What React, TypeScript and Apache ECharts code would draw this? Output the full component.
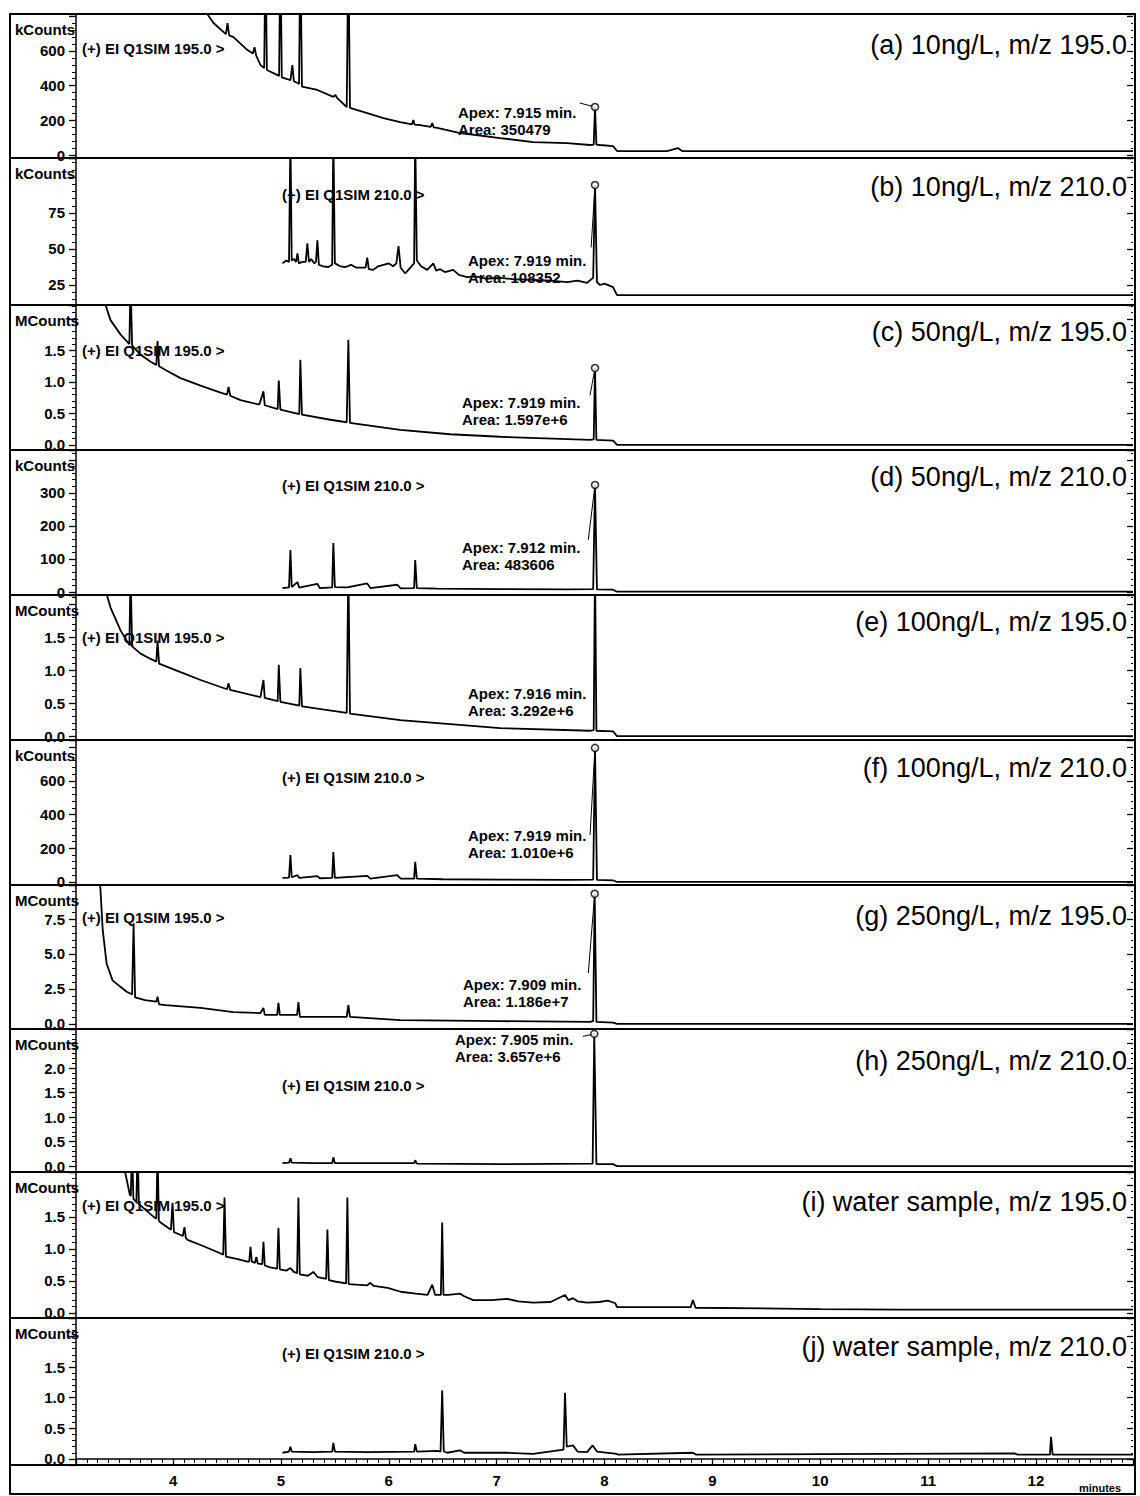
import React, { useEffect, useRef } from "react";
import * as echarts from "echarts";

// ---------- data ----------
const X_MIN = 3.1;
const X_MAX = 12.9;

const panelTitles = [
  "(a) 10ng/L, m/z 195.0",
  "(b) 10ng/L, m/z 210.0",
  "(c) 50ng/L, m/z 195.0",
  "(d) 50ng/L, m/z 210.0",
  "(e) 100ng/L, m/z 195.0",
  "(f) 100ng/L, m/z 210.0",
  "(g) 250ng/L, m/z 195.0",
  "(h) 250ng/L, m/z 210.0",
  "(i) water sample, m/z 195.0",
  "(j) water sample, m/z 210.0",
];
const simLabels = [
  "(+) EI Q1SIM 195.0 >",
  "(+) EI Q1SIM 210.0 >",
  "(+) EI Q1SIM 195.0 >",
  "(+) EI Q1SIM 210.0 >",
  "(+) EI Q1SIM 195.0 >",
  "(+) EI Q1SIM 210.0 >",
  "(+) EI Q1SIM 195.0 >",
  "(+) EI Q1SIM 210.0 >",
  "(+) EI Q1SIM 195.0 >",
  "(+) EI Q1SIM 210.0 >",
];
const unitLabels = ["kCounts", "kCounts", "MCounts", "kCounts", "MCounts", "kCounts", "MCounts", "MCounts", "MCounts", "MCounts"];
const yMin = [-17, 11.1, -0.08, -9, -0.06, -18, -0.36, -0.12, -0.08, -0.1];
const yMax = [813, 113.2, 2.22, 430, 2.14, 842, 9.93, 2.8, 2.2, 2.3];
const yStep = [200, 25, 0.5, 100, 0.5, 200, 2.5, 0.5, 0.5, 0.5];
const yLabelTop = [600, 75, 1.5, 300, 1.5, 600, 7.5, 2.0, 1.5, 1.5];
const yDecimals = [0, 0, 1, 0, 1, 0, 1, 1, 1, 1];

const apexTimes = [7.912, 7.912, 7.912, 7.912, null, 7.912, 7.909, 7.905, null, null];
const apexValues = [277, 94.4, 1.22, 324, null, 795, 9.3, 2.7, null, null];
const leaderStarts: (number[] | null)[] = [[7.77, 300], [7.876, 51], [7.866, 0.79], [7.85, 158], null, [7.866, 279], [7.85, 3.64], [7.8, 2.65], null, null];
const apexTexts = ["Apex: 7.915 min.", "Apex: 7.919 min.", "Apex: 7.919 min.", "Apex: 7.912 min.", "Apex: 7.916 min.", "Apex: 7.919 min.", "Apex: 7.909 min.", "Apex: 7.905 min."];
const areaTexts = ["Area: 350479", "Area: 108352", "Area: 1.597e+6", "Area: 483606", "Area: 3.292e+6", "Area: 1.010e+6", "Area: 1.186e+7", "Area: 3.657e+6"];

const traceA = [
  [4.22, 900], [4.375, 761], [4.49, 697], [4.505, 761], [4.52, 690], [4.56, 680], [4.69, 605], [4.74, 585], [4.755, 622], [4.77, 575],
  [4.81, 519], [4.845, 501], [4.857, 1200], [4.87, 490], [4.968, 461], [4.983, 455], [4.995, 1200], [5.008, 448], [5.088, 432], [5.106, 519],
  [5.12, 425], [5.153, 415], [5.168, 410], [5.18, 1200], [5.195, 395], [5.338, 375], [5.486, 335], [5.505, 346], [5.52, 330], [5.61, 277],
  [5.625, 1200], [5.64, 272], [5.8, 242], [5.95, 213], [6.106, 190], [6.215, 177], [6.227, 202], [6.24, 175], [6.29, 173], [6.39, 163],
  [6.403, 185], [6.416, 160], [6.449, 156], [6.662, 127], [7.032, 98], [7.338, 75], [7.653, 69], [7.866, 58], [7.9, 60], [7.912, 277],
  [7.925, 60], [7.958, 58], [8.079, 52], [8.116, 23], [8.58, 23], [8.68, 40], [8.72, 23], [12.9, 23],
];
const traceB = [
  [5.014, 40], [5.05, 42], [5.075, 41], [5.088, 130], [5.1, 42], [5.12, 43], [5.14, 41], [5.153, 47], [5.166, 40], [5.2, 41],
  [5.23, 41], [5.245, 54], [5.26, 41], [5.28, 43], [5.31, 40], [5.325, 41], [5.338, 56], [5.352, 39], [5.39, 38], [5.44, 37.5],
  [5.475, 39], [5.486, 130], [5.5, 40], [5.55, 38], [5.6, 37.5], [5.65, 39], [5.7, 37], [5.736, 37], [5.785, 37], [5.8, 44],
  [5.815, 36], [5.856, 35.5], [5.9, 38], [5.95, 39], [6.0, 40], [6.04, 38], [6.07, 40], [6.09, 52], [6.11, 37], [6.153, 33],
  [6.2, 37], [6.235, 40], [6.245, 130], [6.26, 42], [6.3, 38], [6.356, 35.5], [6.4, 39], [6.412, 40], [6.44, 35], [6.477, 36],
  [6.52, 34], [6.597, 35.5], [6.65, 32], [6.727, 30.5], [6.8, 31], [6.9, 29.5], [7.032, 30], [7.15, 29], [7.338, 28.5], [7.5, 28],
  [7.653, 27], [7.75, 28], [7.838, 26.5], [7.895, 30], [7.912, 94.4], [7.93, 27], [7.958, 25], [8.0, 26], [8.079, 23.5], [8.116, 18],
  [12.9, 18],
];
const traceC = [
  [3.34, 2.4], [3.42, 1.98], [3.514, 1.75], [3.595, 1.6], [3.606, 2.6], [3.62, 1.58], [3.699, 1.43], [3.792, 1.32], [3.845, 1.27], [3.856, 1.65],
  [3.87, 1.25], [3.93, 1.19], [4.069, 1.06], [4.255, 0.94], [4.44, 0.83], [4.5, 0.8], [4.514, 0.92], [4.53, 0.78], [4.625, 0.71], [4.8, 0.64],
  [4.838, 0.85], [4.85, 0.63], [4.97, 0.57], [4.98, 1.02], [4.995, 0.56], [5.17, 0.49], [5.18, 1.35], [5.195, 0.48], [5.458, 0.4], [5.61, 0.36],
  [5.625, 1.67], [5.64, 0.35], [6.106, 0.24], [6.569, 0.17], [7.032, 0.13], [7.866, 0.08], [7.9, 0.09], [7.912, 1.22], [7.925, 0.08], [8.08, 0.07],
  [8.116, 0.0], [12.9, 0.0],
];
const traceD = [
  [5.014, 12], [5.075, 14], [5.088, 127], [5.1, 15], [5.153, 30], [5.17, 13], [5.338, 25], [5.36, 12], [5.475, 14], [5.486, 148],
  [5.5, 15], [5.616, 14], [5.8, 26], [5.83, 12], [6.079, 22], [6.11, 11], [6.235, 12], [6.245, 97], [6.26, 12], [6.45, 10],
  [7.032, 9], [7.653, 8], [7.895, 9], [7.912, 324], [7.93, 8], [8.079, 7], [8.116, 1], [12.9, 1],
];
const traceE = [
  [3.34, 2.4], [3.42, 1.95], [3.514, 1.6], [3.595, 1.38], [3.606, 2.5], [3.62, 1.36], [3.699, 1.25], [3.792, 1.17], [3.845, 1.13], [3.856, 1.45],
  [3.87, 1.1], [4.069, 0.97], [4.255, 0.85], [4.5, 0.71], [4.514, 0.8], [4.53, 0.7], [4.81, 0.59], [4.838, 0.85], [4.85, 0.58], [4.97, 0.53],
  [4.98, 1.08], [4.995, 0.52], [5.17, 0.46], [5.18, 1.03], [5.195, 0.45], [5.61, 0.35], [5.625, 2.6], [5.64, 0.34], [6.106, 0.24], [7.032, 0.12],
  [7.866, 0.08], [7.9, 0.09], [7.912, 2.6], [7.925, 0.08], [8.08, 0.07], [8.116, 0.0], [12.9, 0.0],
];
const traceF = [
  [5.014, 24], [5.075, 26], [5.088, 160], [5.1, 28], [5.153, 40], [5.17, 24], [5.338, 35], [5.36, 22], [5.475, 24], [5.486, 178],
  [5.5, 24], [5.8, 36], [5.83, 20], [6.079, 40], [6.11, 20], [6.235, 20], [6.245, 119], [6.26, 20], [6.5, 16], [7.032, 14],
  [7.653, 12], [7.895, 14], [7.912, 795], [7.93, 12], [8.079, 10], [8.116, 0], [12.9, 0],
];
const traceG = [
  [3.32, 10.5], [3.348, 6.7], [3.384, 4.3], [3.44, 3.1], [3.57, 2.3], [3.62, 2.1], [3.634, 7.2], [3.648, 1.9], [3.74, 1.7], [3.845, 1.6],
  [3.856, 1.95], [3.87, 1.4], [3.93, 1.35], [4.255, 1.15], [4.56, 0.85], [4.81, 0.78], [4.838, 1.15], [4.85, 0.65], [4.965, 0.65], [4.977, 1.5],
  [4.99, 0.65], [5.15, 0.65], [5.162, 1.57], [5.176, 0.5], [5.486, 0.5], [5.61, 0.5], [5.625, 1.35], [5.64, 0.5], [6.106, 0.28], [7.032, 0.2],
  [7.866, 0.15], [7.895, 0.2], [7.909, 9.3], [7.925, 0.15], [8.08, 0.1], [8.116, 0.0], [12.9, 0.0],
];
const traceH = [
  [5.014, 0.06], [5.075, 0.07], [5.088, 0.16], [5.1, 0.07], [5.3, 0.06], [5.475, 0.06], [5.486, 0.18], [5.5, 0.06], [6.235, 0.06], [6.245, 0.12],
  [6.26, 0.05], [7.032, 0.04], [7.89, 0.05], [7.905, 2.7], [7.925, 0.04], [8.08, 0.04], [8.116, 0.0], [12.9, 0.0],
];
const traceI = [
  [3.53, 2.4], [3.6, 1.84], [3.608, 1.83], [3.62, 2.6], [3.632, 1.78], [3.66, 1.73], [3.671, 2.6], [3.683, 1.7], [3.75, 1.6], [3.82, 1.5],
  [3.845, 1.47], [3.856, 2.6], [3.868, 1.44], [3.884, 1.41], [3.98, 1.3], [3.995, 1.72], [4.008, 1.26], [4.09, 1.2], [4.106, 1.34], [4.118, 1.17],
  [4.134, 1.14], [4.255, 1.06], [4.41, 0.95], [4.465, 0.91], [4.477, 1.8], [4.49, 0.88], [4.6, 0.84], [4.69, 0.8], [4.706, 0.8], [4.718, 1.03],
  [4.73, 0.8], [4.76, 0.78], [4.772, 0.875], [4.785, 0.77], [4.826, 0.76], [4.838, 1.11], [4.85, 0.74], [4.9, 0.71], [4.965, 0.69], [4.977, 1.33],
  [4.99, 0.68], [5.05, 0.66], [5.088, 0.7], [5.12, 0.64], [5.15, 0.62], [5.162, 1.8], [5.175, 0.6], [5.25, 0.58], [5.3, 0.64], [5.34, 0.56],
  [5.419, 0.53], [5.431, 1.3], [5.444, 0.51], [5.5, 0.49], [5.604, 0.46], [5.616, 1.8], [5.628, 0.45], [5.7, 0.44], [5.8, 0.43], [5.829, 0.47],
  [5.86, 0.42], [5.99, 0.39], [6.11, 0.33], [6.25, 0.3], [6.36, 0.28], [6.403, 0.44], [6.43, 0.28], [6.483, 0.28], [6.495, 1.41], [6.507, 0.28],
  [6.55, 0.28], [6.662, 0.3], [6.7, 0.26], [6.782, 0.2], [6.95, 0.2], [7.097, 0.22], [7.2, 0.18], [7.338, 0.16], [7.5, 0.17], [7.634, 0.28],
  [7.665, 0.2], [7.708, 0.23], [7.75, 0.18], [7.838, 0.16], [7.95, 0.17], [8.032, 0.19], [8.1, 0.15], [8.116, 0.09], [8.579, 0.09], [8.8, 0.09],
  [8.819, 0.2], [8.845, 0.08], [10.0, 0.06], [10.736, 0.05], [12.9, 0.05],
];
const traceJ = [
  [5.014, 0.1], [5.075, 0.12], [5.088, 0.2], [5.1, 0.12], [5.3, 0.11], [5.475, 0.12], [5.486, 0.26], [5.5, 0.12], [5.8, 0.11], [6.235, 0.12],
  [6.245, 0.24], [6.26, 0.12], [6.45, 0.13], [6.48, 0.12], [6.495, 1.12], [6.51, 0.12], [6.542, 0.1], [6.66, 0.14], [6.7, 0.1], [7.1, 0.1],
  [7.338, 0.08], [7.62, 0.15], [7.634, 1.08], [7.65, 0.2], [7.708, 0.22], [7.75, 0.12], [7.838, 0.11], [7.89, 0.22], [7.93, 0.12], [8.116, 0.08],
  [8.12, 0.07], [8.819, 0.1], [8.85, 0.07], [11.8, 0.09], [11.83, 0.07], [12.13, 0.07], [12.14, 0.36], [12.155, 0.07], [12.9, 0.07],
];

// ---------- layout ----------
const panelTops = [14, 158, 305, 450, 595, 740, 885, 1029, 1172, 1318, 1465];
const titleY = [45, 187, 332, 477, 622, 768, 916, 1061, 1202, 1347];
const simX = [82, 282, 82, 282, 82, 282, 82, 282, 82, 282];
const simY = [48, 194, 350, 485, 637, 777, 917, 1085, 1205, 1353];
const annX = [458, 468, 462, 462, 468, 468, 463, 455];
const annY = [112, 260, 402, 547, 693, 835, 984, 1039];

const FONT = "'Liberation Sans', Arial, sans-serif";

export default function App() {
  const ref = useRef<HTMLDivElement>(null);
  useEffect(() => {
    if (!ref.current) return;
    const chart = echarts.init(ref.current, null, { renderer: "svg" });
    const traces = [traceA, traceB, traceC, traceD, traceE, traceF, traceG, traceH, traceI, traceJ];
    const grids: any[] = [];
    const xAxes: any[] = [];
    const yAxes: any[] = [];
    const series: any[] = [];
    const graphics: any[] = [];
    const N = 10;
    for (let i = 0; i < N; i++) {
      const top = panelTops[i];
      const bottom = panelTops[i + 1];
      grids.push({ left: 76, right: 7, top, height: bottom - top });
      const isLast = i === N - 1;
      xAxes.push({
        type: "value",
        gridIndex: i,
        min: X_MIN,
        max: X_MAX,
        minInterval: 1,
        maxInterval: 1,
        show: isLast,
        axisLine: { show: true, lineStyle: { color: "#000", width: 1.5 } },
        axisTick: { show: true, length: 7, lineStyle: { color: "#000", width: 1.3 } },
        minorTick: { show: true, splitNumber: 10, length: 4, lineStyle: { color: "#000", width: 1 } },
        axisLabel: {
          show: true,
          color: "#000",
          fontFamily: FONT,
          fontWeight: "bold",
          fontSize: 15,
          margin: 8,
          showMinLabel: false,
          showMaxLabel: false,
          formatter: (v: number) => String(Math.round(v)),
        },
        splitLine: { show: false },
        minorSplitLine: { show: false },
      });
      const fmt = (v: number) => (v > yLabelTop[i] + 1e-9 || v < -1e-9 ? "" : v.toFixed(yDecimals[i]));
      const common = {
        type: "value",
        gridIndex: i,
        min: yMin[i],
        max: yMax[i],
        minInterval: yStep[i],
        maxInterval: yStep[i],
        splitLine: { show: false },
        minorSplitLine: { show: false },
      };
      yAxes.push({
        ...common,
        position: "left",
        axisLine: { show: true, lineStyle: { color: "#000", width: 1.5 } },
        axisTick: { show: true, length: 7, lineStyle: { color: "#000", width: 1.3 } },
        minorTick: { show: true, splitNumber: 5, length: 4, lineStyle: { color: "#000", width: 1 } },
        axisLabel: {
          color: "#000",
          fontFamily: FONT,
          fontWeight: "bold",
          fontSize: 15,
          margin: 11,
          showMinLabel: false,
          showMaxLabel: false,
          formatter: fmt,
        },
      });
      yAxes.push({
        ...common,
        position: "right",
        axisLine: { show: false },
        axisTick: { show: true, inside: true, length: 6, lineStyle: { color: "#000", width: 1.3 } },
        minorTick: { show: true, splitNumber: 5, length: 2, lineStyle: { color: "#000", width: 1 } },
        axisLabel: { show: false },
      });
      series.push({
        type: "line",
        xAxisIndex: i,
        yAxisIndex: 2 * i,
        data: traces[i],
        symbol: "none",
        clip: true,
        silent: true,
        lineStyle: { color: "#000", width: 1.8 },
      });
      const ls = leaderStarts[i];
      if (ls && apexTimes[i] != null) {
        series.push({
          type: "line",
          xAxisIndex: i,
          yAxisIndex: 2 * i,
          data: [ls, [apexTimes[i], apexValues[i]]],
          symbol: "none",
          silent: true,
          lineStyle: { color: "#000", width: 1 },
        });
      }
      if (apexTimes[i] != null) {
        series.push({
          type: "scatter",
          xAxisIndex: i,
          yAxisIndex: 2 * i,
          data: [[apexTimes[i], apexValues[i]]],
          symbol: "circle",
          symbolSize: 7,
          silent: true,
          itemStyle: { color: "#fff", borderColor: "#000", borderWidth: 1.6 },
          z: 5,
        });
      }
      graphics.push({
        type: "line",
        shape: { x1: 10, y1: bottom, x2: 1135, y2: bottom },
        style: { stroke: "#000", lineWidth: 2 },
        z: 20,
      });
      graphics.push({
        type: "text",
        x: 15,
        y: top + 15,
        style: { text: unitLabels[i], font: `bold 15px ${FONT}`, fill: "#000", textVerticalAlign: "middle" },
        z: 20,
      });
      graphics.push({
        type: "text",
        x: simX[i],
        y: simY[i],
        style: { text: simLabels[i], font: `bold 15px ${FONT}`, fill: "#000", textVerticalAlign: "middle" },
        z: 20,
      });
      graphics.push({
        type: "text",
        x: 1127,
        y: titleY[i],
        style: { text: panelTitles[i], font: `27px ${FONT}`, fill: "#000", textAlign: "right", textVerticalAlign: "middle" },
        z: 20,
      });
      if (i < apexTexts.length) {
        graphics.push({
          type: "text",
          x: annX[i],
          y: annY[i],
          style: { text: apexTexts[i], font: `bold 15px ${FONT}`, fill: "#000", textVerticalAlign: "middle" },
          z: 20,
        });
        graphics.push({
          type: "text",
          x: annX[i],
          y: annY[i] + 17,
          style: { text: areaTexts[i], font: `bold 15px ${FONT}`, fill: "#000", textVerticalAlign: "middle" },
          z: 20,
        });
      }
    }
    graphics.push({
      type: "rect",
      shape: { x: 10, y: 14, width: 1125, height: 1480 },
      style: { fill: "none", stroke: "#000", lineWidth: 2 },
      z: 20,
    });
    graphics.push({
      type: "text",
      x: 1100,
      y: 1488,
      style: { text: "minutes", font: `bold 11px ${FONT}`, fill: "#000", textAlign: "center", textVerticalAlign: "middle" },
      z: 20,
    });

    chart.setOption({
      animation: false,
      backgroundColor: "#fff",
      grid: grids,
      xAxis: xAxes,
      yAxis: yAxes,
      series,
      graphic: graphics,
    });
    return () => chart.dispose();
  }, []);
  return <div ref={ref} style={{ position: "absolute", left: 0, top: 0, width: 1140, height: 1496 }} />;
}
